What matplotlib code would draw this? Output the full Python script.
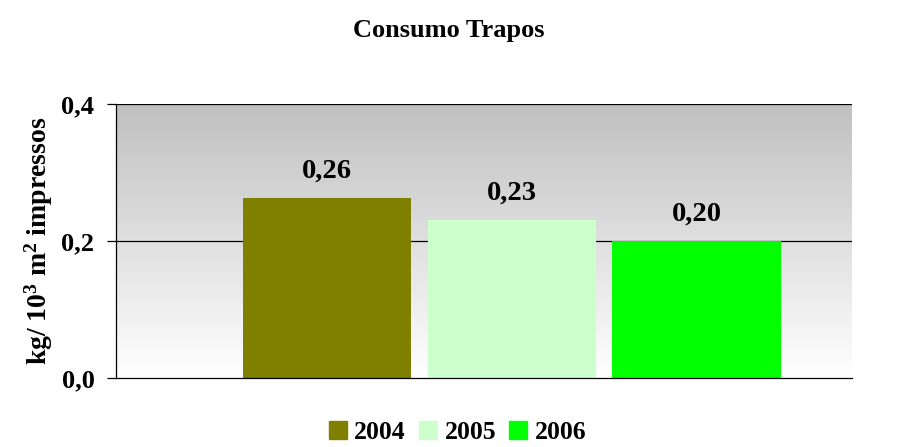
import matplotlib.pyplot as plt
import numpy as np

plt.rcParams['font.family'] = ['Liberation Serif', 'DejaVu Serif']
plt.rcParams['font.weight'] = 'bold'
plt.rcParams['mathtext.default'] = 'regular'

years = ["2004", "2005", "2006"]
values = [0.263, 0.231, 0.200]
labels = ["0,26", "0,23", "0,20"]
colors = ["#808000", "#CCFFCC", "#00FF00"]
yticks = [0.0, 0.2, 0.4]
yticklabels = ["0,0", "0,2", "0,4"]

fig = plt.figure(figsize=(8.97, 4.47), dpi=100)
ax = fig.add_axes([0.1293, 0.1544, 0.8205, 0.6129])

# gray-to-white gradient background
grad = np.linspace(1.0, 0.0, 256).reshape(-1, 1)
ax.imshow(grad, extent=[0, 1, 0, 1], transform=ax.transAxes, aspect="auto",
          cmap=plt.matplotlib.colors.LinearSegmentedColormap.from_list("g", ["#ffffff", "#c0c0c0"]),
          zorder=0)

x = np.arange(len(years))
bars = ax.bar(x, values, width=0.91, color=colors, label=years, zorder=3)
for xi, v, lab in zip(x, values, labels):
    ax.text(xi, v + 0.029, lab, ha="center", va="baseline", fontsize=20.5, fontweight="bold", zorder=4)

ax.set_xlim(-1.14, 2.84)
ax.set_ylim(0, 0.4)
ax.set_yticks(yticks)
ax.set_yticklabels(yticklabels, fontsize=19, fontweight="bold")
ax.set_xticks([])
for y in yticks[1:]:
    ax.axhline(y, color="black", lw=0.9, zorder=2)
ax.tick_params(axis="y", length=6.5, width=0.9, pad=9)
ax.spines["top"].set_visible(False)
ax.spines["right"].set_visible(False)
ax.spines["left"].set_linewidth(0.9)
ax.spines["bottom"].set_linewidth(0.9)
ax.spines["left"].set_zorder(5)
ax.spines["bottom"].set_zorder(5)

ax.set_ylabel(r"kg/ 10$^3$ m$^2$ impressos", fontsize=20, fontweight="bold", labelpad=5)
fig.text(0.5, 0.917, "Consumo Trapos", ha="center", va="baseline", fontsize=19, fontweight="bold")

handles = [plt.Rectangle((0, 0), 1, 1, color=c) for c in colors]
fig.legend(handles, years, loc="center", bbox_to_anchor=(0.51, 0.032), ncol=3, frameon=False,
           prop={"size": 18.5, "weight": "bold"}, handlelength=0.7, handleheight=0.7,
           handletextpad=0.3, columnspacing=0.5, borderpad=0.1)

fig.savefig("out.png", dpi=100)
